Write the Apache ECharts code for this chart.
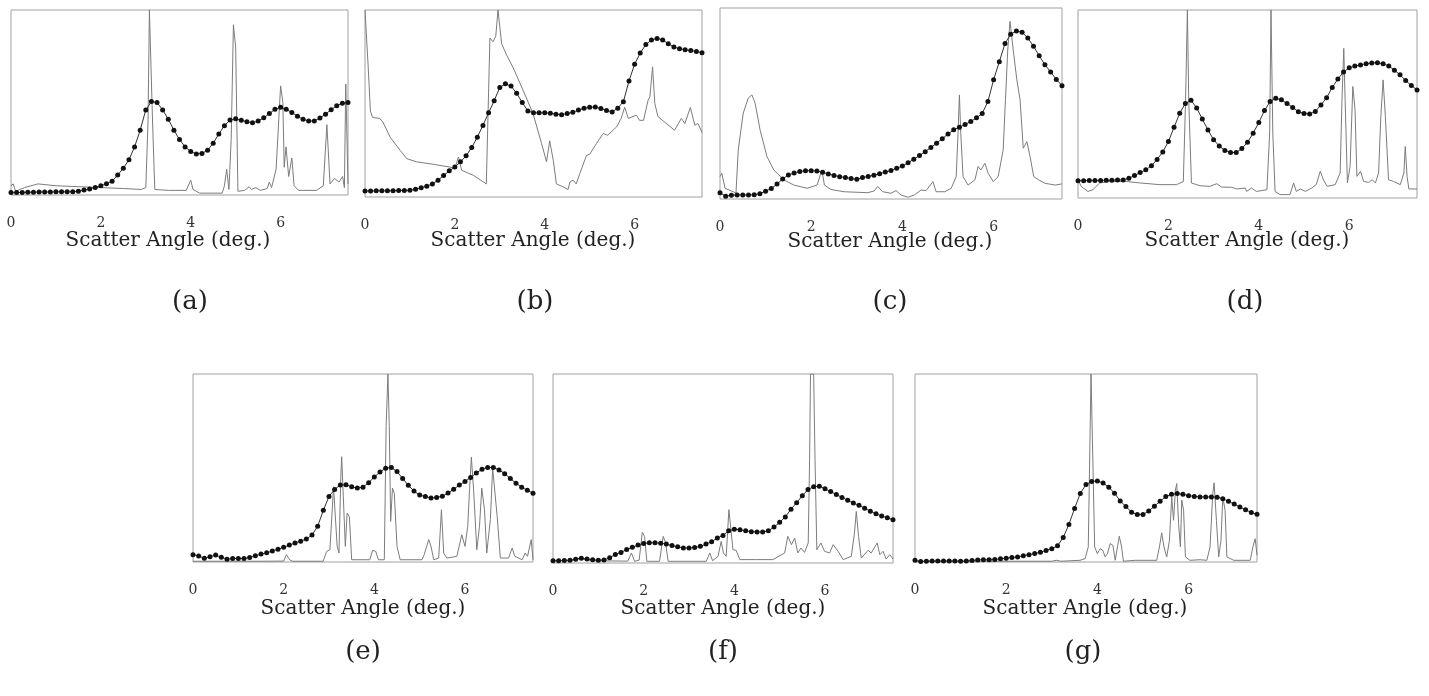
<!DOCTYPE html>
<html>
<head>
<meta charset="utf-8">
<script src="https://cdn.jsdelivr.net/npm/echarts@6/dist/echarts.min.js"></script>
<style>
html,body{margin:0;padding:0;background:#fff;}
#chart{width:1429px;height:696px;}
</style>
</head>
<body>
<div id="chart"></div>
<script>
// ---------- DATA ----------
const panelLabels = ['(a)', '(b)', '(c)', '(d)', '(e)', '(f)', '(g)'];
const axisTitle = 'Scatter Angle (deg.)';
const xTicks = [0, 2, 4, 6];

// angles (deg.) of the simulated (dotted) profiles
const dotAngles = [
  0, 0.125, 0.25, 0.375, 0.5, 0.625, 0.75, 0.875,
  1, 1.125, 1.25, 1.375, 1.5, 1.625, 1.75, 1.875,
  2, 2.125, 2.25, 2.375, 2.5, 2.625, 2.75, 2.875,
  3, 3.125, 3.25, 3.375, 3.5, 3.625, 3.75, 3.875,
  4, 4.125, 4.25, 4.375, 4.5, 4.625, 4.75, 4.875,
  5, 5.125, 5.25, 5.375, 5.5, 5.625, 5.75, 5.875,
  6, 6.125, 6.25, 6.375, 6.5, 6.625, 6.75, 6.875,
  7, 7.125, 7.25, 7.375, 7.5
];

const dotsA = [
  1.3, 1.3, 1.4, 1.5, 1.5, 1.6, 1.6, 1.6,
  1.7, 1.7, 1.7, 1.8, 2.0, 2.7, 3.3, 4.1,
  5.0, 6.1, 7.5, 10.8, 14.5, 19, 26, 35,
  46, 50.5, 50, 46, 41, 35, 30, 26,
  23.5, 22.2, 22.5, 24.2, 28, 33, 37.5, 40.5,
  41.2, 40.4, 39.6, 39, 40, 41.7, 44, 46.3,
  47.4, 46.3, 44.6, 42.6, 40.9, 40, 40, 41.6,
  43.7, 46.1, 48.3, 49.6, 50
];
const dotsB = [
  3.2, 3.2, 3.3, 3.3, 3.3, 3.4, 3.5, 3.5,
  3.6, 4.2, 4.9, 5.8, 7.0, 9.0, 11.5, 14,
  16, 18.8, 22, 26.5, 32, 38.3, 45, 51.5,
  58.6, 60.5, 59.3, 55.5, 50.5, 46, 45, 45,
  45, 44.8, 44.3, 44, 44.6, 45.3, 46.5, 47.4,
  48, 48.1, 47.3, 46.3, 45.5, 47.5, 51, 62,
  71, 77, 81.5, 84, 84.8, 84, 82, 80.2,
  79.3, 78.8, 78.3, 77.8, 77.2
];
const dotsC = [
  3.3, 1.5, 2.0, 2.1, 2.1, 2.1, 2.2, 2.8,
  4.1, 5.5, 7.8, 10.5, 12.6, 13.6, 14.4, 14.8,
  14.8, 14.6, 14.0, 13.1, 12.3, 11.7, 11.2, 10.7,
  10.3, 11.2, 11.8, 12.5, 13.2, 14.1, 14.9, 16.1,
  17.3, 19, 20.8, 22.8, 24.8, 27, 29.2, 31.6,
  34, 36.2, 37.6, 39, 40.6, 42.5, 44.8, 51,
  62.4, 71.9, 81.4, 86.3, 88, 87.3, 84.3, 80,
  75, 70.3, 66.5, 62.6, 59.3
];
const dotsD = [
  9.2, 9.2, 9.3, 9.3, 9.3, 9.4, 9.5, 9.6,
  9.6, 10.5, 12, 13.5, 15, 17.2, 20.5, 24.5,
  30, 37.6, 45.1, 50.3, 52, 47.9, 42, 36.2,
  31, 27.6, 25.3, 24.2, 24.2, 26.3, 29.6, 34.5,
  40.1, 46.5, 51.3, 53, 52.2, 50.3, 48.2, 45.9,
  45, 44.7, 46, 49.5, 53.3, 58.8, 63.3, 67,
  69.3, 70.2, 70.8, 71.4, 71.8, 71.9, 71.4, 70.2,
  68, 65.5, 62.5, 59.8, 57.5
];
const dotsE = [
  3.9, 3.2, 2.0, 2.8, 3.7, 2.5, 1.5, 1.8,
  1.9, 1.8, 2.4, 3.3, 4.2, 4.9, 5.8, 6.8,
  7.8, 9.0, 10.1, 11.1, 12.3, 14.3, 19, 27.5,
  34.9, 38.6, 41, 41.1, 40, 39.3, 39.8, 42.2,
  45.2, 47.9, 49.9, 50.3, 48.1, 44.4, 40.8, 37.7,
  35.6, 34.8, 34, 34.3, 35, 36.7, 38.7, 40.9,
  42.8, 45, 47.3, 49.4, 50.3, 50.3, 49, 47,
  44.4, 41.9, 39.8, 38.1, 36.6
];
const dotsF = [
  1.2, 1.2, 1.3, 1.5, 2.0, 2.5, 2.1, 1.7,
  1.5, 1.6, 2.8, 4.5, 5.6, 7.1, 8.3, 9.5,
  10.3, 10.7, 10.7, 10.5, 10, 9.2, 8.6, 8,
  7.9, 8.2, 8.8, 10, 11.3, 13.2, 14.6, 17,
  17.9, 17.6, 17, 16.6, 16.4, 16.4, 17, 19,
  21.5, 24.4, 28.5, 31.9, 35.6, 38.9, 40.4, 40.6,
  39.3, 37.8, 36.2, 34.7, 33.2, 31.7, 30.5, 29,
  27.4, 26, 24.9, 23.9, 22.9
];
const dotsG = [
  0.9, 0.2, 0.4, 0.5, 0.5, 0.5, 0.5, 0.5,
  0.4, 0.5, 0.8, 1.1, 1.2, 1.2, 1.3, 1.7,
  2.0, 2.4, 2.7, 3.3, 3.9, 4.5, 5.2, 6.1,
  7.1, 8.6, 13, 20, 28.5, 36.5, 41.2, 42.8,
  43.1, 42, 39.8, 36.6, 32.5, 29.5, 26.5, 25.2,
  25.3, 27.1, 29.7, 32.3, 34.8, 36, 36.4, 36,
  35.3, 34.9, 34.6, 34.6, 34.6, 34.5, 33.7, 32.3,
  30.8, 29.3, 27.8, 26.3, 25.4
];
// the simulated curve runs a little past the frame on the right
const dotTails = [null, [7.6, 76.8], [7.6, 57], [7.6, 56], [7.6, 35.2], [7.6, 22.2], [7.6, 24]];

// measured profiles [angle, intensity]
const grayA = [[0,5],[0.05,6],[0.1,2],[0.3,4],[0.6,6],[1.0,5],[1.5,4.5],[2.0,4],[2.5,3.5],[2.9,3],[3.0,4],[3.05,40],[3.08,100],[3.12,100],[3.15,40],[3.2,3],[3.5,2.5],[3.9,2.5],[4.0,8],[4.05,3],[4.2,1],[4.7,1],[4.75,5],[4.8,14],[4.85,3],[4.9,30],[4.95,92],[5.0,80],[5.05,2],[5.2,2.5],[5.3,4.5],[5.35,3],[5.45,4],[5.55,2.5],[5.7,3.5],[5.75,7],[5.8,4],[5.9,14],[6.0,59],[6.05,50],[6.08,15],[6.12,26],[6.18,10],[6.25,20],[6.3,5],[6.4,2.5],[6.8,2.5],[6.95,5],[7.03,38],[7.1,6],[7.2,9],[7.3,7],[7.38,10],[7.42,4],[7.45,60],[7.48,60],[7.5,6]];
const grayB = [[0,100],[0.02,100],[0.07,70],[0.12,46],[0.17,42.5],[0.33,42],[0.4,40],[0.56,32],[0.78,25],[0.93,20.5],[1.15,18.8],[1.52,17.5],[1.89,16],[2.0,15.2],[2.08,21.4],[2.15,14.3],[2.41,11.6],[2.7,7],[2.74,8],[2.78,85],[2.85,83],[2.91,86],[2.96,100],[3.0,100],[3.04,82],[3.15,76],[3.3,69],[3.52,57],[3.74,44.6],[3.93,28.6],[4.04,18.8],[4.11,30],[4.19,19.6],[4.26,7],[4.41,5.4],[4.52,4],[4.56,8],[4.63,9],[4.7,7],[4.78,12.5],[4.93,22.3],[5.0,22.8],[5.15,28.6],[5.3,34],[5.4,33],[5.6,37.5],[5.7,42],[5.78,48],[5.86,42],[6.04,43.8],[6.11,41],[6.2,41],[6.3,51.8],[6.34,53.5],[6.4,69.6],[6.45,50],[6.52,43],[6.67,40],[6.89,35.7],[7.04,42],[7.12,39.3],[7.24,47.9],[7.34,38.4],[7.41,39.3],[7.5,34.5]];
const grayC = [[0,11.7],[0.04,13.5],[0.11,5.6],[0.29,3.8],[0.35,3],[0.4,25.7],[0.51,45],[0.62,52.8],[0.7,54.5],[0.77,50.2],[0.88,36],[1.03,22.2],[1.18,15.2],[1.4,10],[1.62,7.3],[1.91,5.6],[2.13,7.3],[2.2,12.6],[2.24,14.3],[2.29,7.3],[2.43,5],[2.72,3.8],[3.24,3.3],[3.38,4.2],[3.46,6.5],[3.57,3.8],[3.75,3],[3.86,4.4],[3.97,2.1],[4.12,0.9],[4.26,2.1],[4.41,4.7],[4.52,4.4],[4.67,9.1],[4.74,3.8],[4.93,3.8],[5.07,5.6],[5.18,11.7],[5.22,34.4],[5.25,54.5],[5.28,34.4],[5.33,11.7],[5.44,7.3],[5.59,10],[5.66,17],[5.72,15.2],[5.81,18.7],[5.88,13.5],[5.99,9.1],[6.1,11.7],[6.21,25.7],[6.26,52],[6.31,78],[6.36,93],[6.43,78],[6.51,62.4],[6.58,52],[6.65,26.6],[6.73,30],[6.8,22.2],[6.88,11.7],[6.99,10],[7.13,8.2],[7.35,7.3],[7.5,7.9]];
const grayD = [[0,9.7],[0.07,6.2],[0.22,3.5],[0.33,4.4],[0.48,8],[0.7,8.8],[1.07,8.8],[1.37,8],[1.81,7.1],[2.18,7.1],[2.33,8.8],[2.38,52],[2.42,100],[2.45,52],[2.51,8],[2.7,6.5],[2.92,6.2],[3.07,7.6],[3.18,5.8],[3.4,5.7],[3.51,4.8],[3.7,5.3],[3.73,3.5],[3.84,5.3],[3.95,3.5],[4.18,4.4],[4.24,34.5],[4.27,100],[4.31,34.5],[4.36,3.5],[4.47,1.8],[4.69,1.8],[4.77,8],[4.83,3.5],[4.92,4.8],[5.03,3.5],[5.17,5.3],[5.27,7.1],[5.36,14.2],[5.43,9.7],[5.51,6.2],[5.69,7.1],[5.8,13.3],[5.84,52],[5.88,79.6],[5.91,52],[5.96,8],[6.02,16.8],[6.08,59.3],[6.13,46.9],[6.17,11.5],[6.25,14.2],[6.32,8.8],[6.43,8.3],[6.51,9.7],[6.58,8],[6.65,13.3],[6.7,43.4],[6.75,62.8],[6.8,43.4],[6.87,9.7],[6.98,8.8],[7.13,7.1],[7.21,13.3],[7.24,27.4],[7.28,11.5],[7.32,4.8],[7.5,4.8]];
const grayE = [[0,0.4],[1.5,0.4],[2.0,0.5],[2.06,3.9],[2.14,1],[2.2,0.4],[2.87,0.4],[2.95,5.7],[3.02,6.5],[3.1,40],[3.13,41],[3.18,8.3],[3.22,4.8],[3.26,45],[3.28,56],[3.31,56],[3.36,8.3],[3.4,26],[3.45,24],[3.5,1.2],[3.9,1.2],[3.96,6.2],[4.03,5.7],[4.09,1.2],[4.22,1.2],[4.26,72],[4.3,100],[4.33,72],[4.36,21.6],[4.4,39.3],[4.44,36.6],[4.5,8.3],[4.57,1.2],[5.05,1.2],[5.1,3.9],[5.2,11.9],[5.25,8.3],[5.31,1.2],[5.42,2.1],[5.48,27.8],[5.53,4.8],[5.6,2.1],[5.82,3],[5.93,14.5],[6.0,8.3],[6.06,19],[6.1,38.4],[6.14,55.8],[6.19,38.4],[6.26,6.5],[6.32,19],[6.37,39.3],[6.43,27.8],[6.48,4.8],[6.56,22.5],[6.61,50],[6.65,49],[6.71,24.2],[6.78,2.1],[6.96,2.1],[7.04,7.4],[7.1,3],[7.26,1.2],[7.33,4.8],[7.38,3],[7.46,11.9],[7.5,1.2]];
const grayF = [[0,1.2],[0.4,1.2],[0.59,2.6],[0.8,1.2],[1.65,1],[1.73,5.3],[1.8,0.9],[1.9,1.5],[1.97,16.2],[2.02,14],[2.07,0.9],[2.35,0.9],[2.43,14.1],[2.48,11],[2.54,0.9],[3.38,0.9],[3.46,5.3],[3.52,1.2],[3.64,3.5],[3.71,11.4],[3.76,5.3],[3.82,3.5],[3.88,28.2],[3.92,29],[3.97,7],[4.04,6.7],[4.12,1.8],[4.49,1.8],[4.85,1.8],[5.11,5.3],[5.18,14.1],[5.26,9.7],[5.33,13.2],[5.4,5.3],[5.47,7.9],[5.55,5.6],[5.63,10.6],[5.66,54.6],[5.68,100],[5.75,100],[5.78,54.6],[5.82,7],[5.91,10.6],[5.99,6.2],[6.1,5.3],[6.18,9.7],[6.29,6.2],[6.4,1.8],[6.58,3.5],[6.65,15.8],[6.69,27.3],[6.74,14.1],[6.8,2.6],[6.95,6.7],[7.02,5.3],[7.15,10.6],[7.21,4.4],[7.28,6.2],[7.35,2.1],[7.43,4.4],[7.5,2.1]];
const grayG = [[0,0.4],[3.0,0.4],[3.1,0.9],[3.2,0.4],[3.62,0.9],[3.73,1.8],[3.8,8],[3.86,100],[3.9,100],[3.94,8],[4.0,4.4],[4.06,7.1],[4.12,6.2],[4.17,2.7],[4.22,4.4],[4.28,9.8],[4.34,8.9],[4.39,0.9],[4.44,8],[4.48,13.7],[4.53,8],[4.57,0.4],[4.83,0.9],[5.3,0.9],[5.36,8],[5.41,15.5],[5.46,8],[5.52,2.7],[5.58,11.5],[5.63,34.6],[5.67,22.2],[5.71,38.2],[5.74,41.7],[5.78,20.4],[5.82,8],[5.85,32.9],[5.89,27.5],[5.93,2.7],[6.03,0.9],[6.25,1.2],[6.4,0.9],[6.47,8],[6.53,36.4],[6.56,42.1],[6.61,22.2],[6.66,2.7],[6.71,11.5],[6.75,34.6],[6.8,27.5],[6.84,2.7],[6.99,0.9],[7.35,0.9],[7.41,8],[7.46,12.4],[7.5,3.6]];

const measured = [grayA, grayB, grayC, grayD, grayE, grayF, grayG];
const simulated = [dotsA, dotsB, dotsC, dotsD, dotsE, dotsF, dotsG];

// ---------- LAYOUT ----------
const frames = [
  {left: 11,   top: 10,  width: 337, height: 185},
  {left: 365,  top: 10,  width: 337, height: 187},
  {left: 720,  top: 8,   width: 342, height: 191},
  {left: 1078, top: 10,  width: 339, height: 188},
  {left: 193,  top: 374, width: 340, height: 188},
  {left: 553,  top: 374, width: 340, height: 189},
  {left: 915,  top: 374, width: 342, height: 188}
];
const titlePos = [[168, 241], [533, 241], [890, 242], [1247, 241], [363, 609], [723, 609], [1085, 609]];
const labelPos = [[190, 302], [535, 302], [890, 302], [1245, 302], [363, 652], [723, 652], [1083, 652]];

const SERIF = '"DejaVu Serif", "Liberation Serif", serif';

const grid = [], xAxis = [], yAxis = [], series = [], graphic = [];
frames.forEach((f, i) => {
  grid.push({left: f.left, top: f.top, width: f.width, height: f.height,
    show: true, borderColor: '#a0a0a0', borderWidth: 1, backgroundColor: 'transparent'});
  xAxis.push({
    type: 'value', gridIndex: i, min: 0, max: 7.5, interval: 2,
    axisLine: {show: false}, axisTick: {show: false}, splitLine: {show: false},
    axisLabel: {
      show: true, margin: 21, fontFamily: SERIF, fontSize: 14, color: '#333',
      showMaxLabel: false,
      formatter: v => (xTicks.indexOf(v) >= 0 ? String(v) : '')
    }
  });
  yAxis.push({type: 'value', gridIndex: i, min: 0, max: 100, show: false,
    axisLine: {show: false}, splitLine: {show: false}});
  series.push({
    type: 'line', xAxisIndex: i, yAxisIndex: i, data: measured[i],
    showSymbol: false, symbol: 'none', z: 2,
    lineStyle: {color: '#7c7c7c', width: 1}
  });
  const d = dotAngles.map((a, k) => [a, simulated[i][k]]);
  if (dotTails[i]) d.push({value: dotTails[i], symbol: 'none'});
  series.push({
    type: 'line', xAxisIndex: i, yAxisIndex: i, data: d,
    symbol: 'circle', symbolSize: 5, showSymbol: true, showAllSymbol: true,
    clip: false, z: 3,
    itemStyle: {color: '#111'},
    lineStyle: {color: '#333', width: 1}
  });
  graphic.push({
    type: 'text', x: titlePos[i][0], y: titlePos[i][1],
    style: {text: axisTitle, fill: '#222', font: '20px ' + SERIF,
      textAlign: 'center', textVerticalAlign: 'middle'}
  });
  graphic.push({
    type: 'text', x: labelPos[i][0], y: labelPos[i][1],
    style: {text: panelLabels[i], fill: '#222', font: '26px ' + SERIF,
      textAlign: 'center', textVerticalAlign: 'middle'}
  });
});

const chart = echarts.init(document.getElementById('chart'), null, {renderer: 'canvas'});
chart.setOption({
  animation: false,
  backgroundColor: '#fff',
  grid, xAxis, yAxis, series, graphic
});
</script>
</body>
</html>
